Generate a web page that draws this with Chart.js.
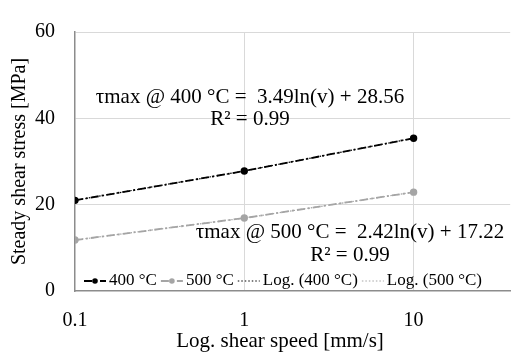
<!DOCTYPE html>
<html>
<head>
<meta charset="utf-8">
<script src="https://cdn.jsdelivr.net/npm/chart.js@4/dist/chart.umd.min.js"></script>
<style>
  html, body { margin: 0; padding: 0; background: #ffffff; }
  #wrap { width: 516px; height: 354px; }
</style>
</head>
<body>
<div id="wrap"><canvas id="chart"></canvas></div>
<script>
  'use strict';

  // shear speed [mm/s]
  const speeds = [0.1, 1, 10];
  // steady shear stress [MPa]
  const stress400 = [21.0, 27.8, 35.4];
  const stress500 = [11.8, 16.9, 22.9];
  // log trendlines, as they sit on the picture (over the data lines)
  const logFit400 = [21.0, 27.8, 35.4];
  const logFit500 = [11.8, 16.9, 22.9];
  const xTicks = [0.1, 1, 10];
  const yTicks = [0, 20, 40, 60];

  const seriesLabels = ['400 °C', '500 °C', 'Log. (400 °C)', 'Log. (500 °C)'];
  const fitNotes = [
    ['τmax @ 400 °C =  3.49ln(v) + 28.56', 'R² = 0.99'],
    ['τmax @ 500 °C =  2.42ln(v) + 17.22', 'R² = 0.99'],
  ];
  const xTitle = 'Log. shear speed [mm/s]';
  const yTitle = 'Steady shear stress [MPa]';

  const FONT = '"Liberation Serif", "Times New Roman", serif';
  const BLACK = '#000000';
  const GREY = '#a5a5a5';

  function points(values) {
    return speeds.map(function (s, i) {
      return { x: s, y: values[i] };
    });
  }

  // fit equations inside the plot, plus the x axis title
  const notesPlugin = {
    id: 'notes',
    afterDatasetsDraw: function (chart) {
      const ctx = chart.ctx;
      const a = chart.chartArea;
      ctx.save();
      ctx.fillStyle = '#000000';
      ctx.textAlign = 'center';
      ctx.textBaseline = 'middle';
      ctx.font = '21px ' + FONT;
      ctx.fillText(fitNotes[0][0], a.left + 175, 97);
      ctx.fillText(fitNotes[0][1], a.left + 175, 119);
      ctx.fillText(fitNotes[1][0], a.left + 275, 232);
      ctx.fillText(fitNotes[1][1], a.left + 275, 255);
      ctx.font = '21px ' + FONT;
      ctx.fillText(xTitle, a.left + 205, 341);
      ctx.restore();
    },
  };

  // legend drawn inside the bottom of the plot area
  const innerLegend = {
    id: 'innerLegend',
    afterDraw: function (chart) {
      const ctx = chart.ctx;
      const a = chart.chartArea;
      const y = a.bottom - 10;
      let x = a.left + 9;
      ctx.save();
      ctx.font = '17px ' + FONT;
      ctx.textBaseline = 'middle';
      chart.data.datasets.forEach(function (ds) {
        const len = 22;
        ctx.strokeStyle = ds.borderColor;
        ctx.lineWidth = ds.borderWidth;
        ctx.setLineDash(ds.borderDash || []);
        ctx.beginPath();
        ctx.moveTo(x, y);
        ctx.lineTo(x + len, y);
        ctx.stroke();
        ctx.setLineDash([]);
        if (ds.pointRadius > 0) {
          ctx.fillStyle = ds.pointBackgroundColor;
          ctx.beginPath();
          ctx.arc(x + len / 2, y, ds.pointRadius, 0, Math.PI * 2);
          ctx.fill();
        }
        x += len + 3;
        ctx.fillStyle = '#000000';
        ctx.fillText(ds.label, x, y);
        x += ctx.measureText(ds.label).width + 4;
      });
      ctx.restore();
    },
  };

  const ctx = document.getElementById('chart').getContext('2d');
  new Chart(ctx, {
    type: 'line',
    data: {
      datasets: [
        {
          label: seriesLabels[0],
          data: points(stress400),
          borderColor: BLACK,
          backgroundColor: BLACK,
          pointBackgroundColor: BLACK,
          pointBorderColor: BLACK,
          borderWidth: 1.8,
          borderDash: [8, 3, 2, 3],
          pointRadius: 2.8,
          order: 2,
        },
        {
          label: seriesLabels[1],
          data: points(stress500),
          borderColor: GREY,
          backgroundColor: GREY,
          pointBackgroundColor: GREY,
          pointBorderColor: GREY,
          borderWidth: 1.8,
          borderDash: [8, 3, 2, 3],
          pointRadius: 2.8,
          order: 2,
        },
        {
          label: seriesLabels[2],
          data: points(logFit400),
          borderColor: BLACK,
          borderWidth: 1.2,
          borderDash: [1.5, 2],
          pointRadius: 0,
          order: 1,
        },
        {
          label: seriesLabels[3],
          data: points(logFit500),
          borderColor: GREY,
          borderWidth: 1.2,
          borderDash: [1.5, 2],
          pointRadius: 0,
          order: 1,
        },
      ],
    },
    options: {
      responsive: true,
      maintainAspectRatio: false,
      animation: false,
      events: [],
      layout: { padding: { top: 18, right: 0, left: 0, bottom: 0 } },
      plugins: {
        legend: { display: false },
        tooltip: { enabled: false },
      },
      scales: {
        x: {
          type: 'logarithmic',
          min: 0.1,
          max: 37.2,
          afterBuildTicks: function (scale) {
            scale.ticks = xTicks.map(function (v) { return { value: v }; });
          },
          afterFit: function (scale) { scale.height = 63; },
          ticks: {
            color: '#000000',
            font: { family: FONT, size: 20 },
            padding: 18,
            maxRotation: 0,
            callback: function (v) { return String(v); },
          },
          grid: {
            drawTicks: false,
            color: function (c) {
              return c.tick && c.tick.value === 0.1 ? 'rgba(0,0,0,0)' : '#d9d9d9';
            },
          },
          border: { color: '#8c8c8c', width: 1.5 },
          title: { display: false },
        },
        y: {
          min: 0,
          max: 60,
          afterBuildTicks: function (scale) {
            scale.ticks = yTicks.map(function (v) { return { value: v }; });
          },
          afterFit: function (scale) { scale.width = 75; },
          ticks: {
            color: '#000000',
            font: { family: FONT, size: 20 },
            padding: 20,
          },
          grid: {
            drawTicks: false,
            color: function (c) {
              return c.tick && c.tick.value === 0 ? 'rgba(0,0,0,0)' : '#d9d9d9';
            },
          },
          border: { color: '#8c8c8c', width: 1.5 },
          title: {
            display: true,
            text: yTitle,
            color: '#000000',
            font: { family: FONT, size: 20 },
            padding: { top: 8, bottom: 0 },
          },
        },
      },
    },
    plugins: [notesPlugin, innerLegend],
  });
</script>
</body>
</html>
